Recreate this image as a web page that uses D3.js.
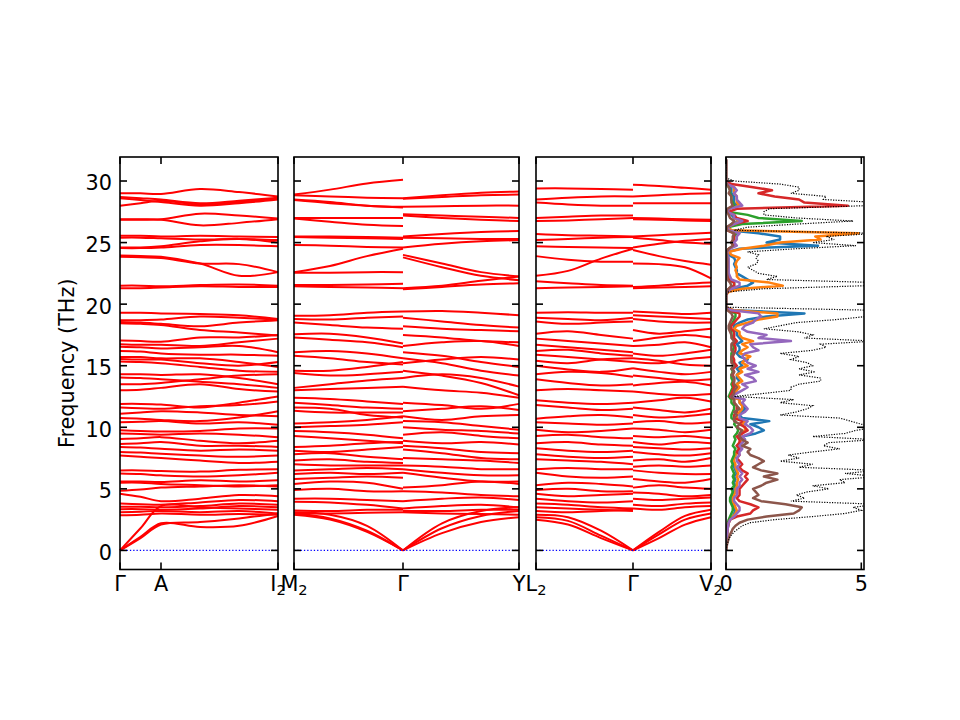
<!DOCTYPE html>
<html>
<head>
<meta charset="utf-8">
<script src="https://cdn.jsdelivr.net/npm/d3@7"></script>
<style>
  body { margin: 0; background: #fff; }
  text { font-family: "DejaVu Sans", sans-serif; }
</style>
</head>
<body>
<svg id="chart" width="960" height="720"></svg>
<script>
// Phonon dispersion (3 path panels) + projected DOS panel

const freqTicks = [0, 5, 10, 15, 20, 25, 30];
const dosTicks = [0, 5];

// --- panel 1: Γ - A - I2 ---
const p1Labels = ["Γ", "A", "I_2"];
const p1LabelPos = [0, 0.41, 1.58];
const p1Q = [0, 0.205, 0.41, 0.8, 1.19, 1.58];
const p1Bands = [
  [0, 1.8, 3.6, 3.5, 3.4, 3.3],
  [0, 1.1, 2.2, 1.9, 2.0, 2.8],
  [0, 1.0, 2.1, 2.3, 2.6, 3.0],
  [2.85, 2.9, 3.0, 2.9, 2.95, 2.9],
  [3.1, 3.15, 3.2, 3.1, 3.2, 3.0],
  [3.35, 3.35, 3.3, 3.4, 3.6, 3.5],
  [3.55, 3.55, 3.5, 3.6, 3.8, 3.7],
  [3.8, 3.75, 3.7, 3.9, 4.1, 4.0],
  [4.6, 4.35, 4.0, 4.2, 4.5, 4.4],
  [4.85, 4.95, 5.1, 5.2, 5.3, 5.2],
  [5.5, 5.5, 5.4, 5.3, 5.2, 5.3],
  [5.6, 5.6, 5.55, 5.7, 5.6, 5.7],
  [6.25, 6.2, 6.1, 6.0, 6.1, 6.3],
  [6.5, 6.5, 6.45, 6.4, 6.55, 6.6],
  [7.7, 7.6, 7.5, 7.3, 7.1, 7.2],
  [8.0, 7.95, 7.85, 7.7, 7.6, 7.7],
  [8.4, 8.35, 8.25, 8.1, 8.2, 8.1],
  [8.65, 8.7, 8.8, 8.5, 8.5, 8.4],
  [9.05, 9.1, 9.2, 8.9, 8.7, 8.9],
  [9.5, 9.45, 9.4, 9.5, 9.4, 9.2],
  [9.75, 9.7, 9.65, 9.7, 9.9, 9.9],
  [10.4, 10.45, 10.5, 10.3, 10.4, 10.2],
  [10.75, 10.7, 10.6, 10.5, 10.8, 11.3],
  [11.1, 11.2, 11.3, 11.2, 11.0, 10.9],
  [11.6, 11.55, 11.5, 11.7, 11.8, 12.1],
  [11.9, 11.9, 11.85, 11.6, 12.0, 12.5],
  [13.0, 13.05, 13.2, 13.5, 13.1, 12.9],
  [13.5, 13.5, 13.6, 13.9, 14.2, 14.3],
  [14.05, 14.0, 13.9, 13.7, 13.5, 13.2],
  [14.3, 14.3, 14.25, 14.3, 14.0, 13.5],
  [15.35, 15.3, 15.2, 14.9, 14.6, 14.5],
  [15.55, 15.5, 15.5, 15.2, 15.0, 15.3],
  [15.7, 15.7, 15.6, 15.6, 15.3, 14.9],
  [16.2, 16.15, 16.0, 15.9, 15.9, 15.8],
  [16.55, 16.5, 16.4, 16.5, 16.6, 16.1],
  [16.75, 16.7, 16.7, 16.6, 16.9, 17.2],
  [17.05, 17.0, 16.95, 17.3, 17.3, 17.5],
  [18.45, 18.4, 18.3, 17.9, 17.7, 17.45],
  [18.55, 18.5, 18.4, 18.2, 18.5, 18.7],
  [18.7, 18.7, 18.75, 19.0, 18.9, 18.75],
  [19.3, 19.3, 19.25, 19.2, 19.1, 18.8],
  [21.3, 21.3, 21.35, 21.45, 21.4, 21.4],
  [21.5, 21.5, 21.45, 21.55, 21.6, 21.5],
  [23.85, 23.8, 23.75, 23.3, 23.25, 22.6],
  [23.95, 23.9, 23.85, 23.3, 22.3, 22.6],
  [24.55, 24.55, 24.6, 24.8, 24.8, 24.7],
  [24.6, 24.6, 24.7, 25.1, 25.3, 25.0],
  [25.4, 25.4, 25.35, 25.25, 25.3, 25.2],
  [25.55, 25.55, 25.5, 25.55, 25.5, 25.45],
  [26.85, 26.85, 26.85, 26.4, 26.6, 26.9],
  [26.9, 26.9, 26.9, 27.35, 27.2, 26.95],
  [28.0, 28.2, 28.4, 28.1, 28.3, 28.55],
  [28.6, 28.45, 28.3, 28.0, 28.2, 28.5],
  [28.7, 28.6, 28.5, 28.2, 28.4, 28.65],
  [29.0, 29.0, 28.95, 29.35, 29.1, 28.75]
];

// --- panel 2: M2 - Γ - Y ---
const p2Labels = ["M_2", "Γ", "Y"];
const p2LabelPos = [0, 1.09, 2.25];
const p2QLeft = [0, 0.36, 0.73, 1.09];
const p2QRight = [1.09, 1.48, 1.87, 2.25];
const p2BandsLeft = [
  [3.1, 2.9, 2.0, 0],
  [3.0, 2.6, 1.6, 0],
  [2.9, 2.5, 1.5, 0],
  [3.0, 3.0, 3.05, 3.1],
  [3.25, 3.2, 3.3, 3.3],
  [3.95, 3.9, 3.7, 3.4],
  [4.2, 4.2, 4.1, 4.0],
  [4.9, 5.0, 4.8, 4.8],
  [5.4, 5.6, 5.5, 5.0],
  [5.8, 5.9, 6.0, 5.9],
  [6.2, 6.3, 6.2, 6.3],
  [6.5, 6.6, 6.7, 6.6],
  [7.0, 6.9, 6.9, 6.9],
  [7.3, 7.4, 7.2, 7.1],
  [7.8, 7.9, 7.6, 7.4],
  [8.1, 8.0, 8.2, 8.4],
  [8.4, 8.5, 8.7, 8.8],
  [9.3, 9.1, 8.9, 8.7],
  [9.7, 9.6, 9.4, 9.1],
  [10.0, 10.1, 10.2, 10.4],
  [10.3, 10.4, 10.6, 10.9],
  [11.35, 11.2, 11.2, 11.2],
  [11.6, 11.5, 11.0, 10.8],
  [12.0, 11.8, 11.6, 11.5],
  [12.4, 12.3, 12.1, 11.9],
  [13.0, 13.1, 13.2, 13.3],
  [13.2, 13.5, 13.8, 14.0],
  [14.4, 14.2, 14.3, 14.5],
  [14.6, 14.6, 14.9, 15.3],
  [15.8, 15.6, 15.3, 15.1],
  [16.1, 16.2, 16.0, 15.6],
  [17.3, 17.1, 16.9, 16.5],
  [17.55, 17.6, 17.3, 16.8],
  [18.5, 18.3, 18.1, 18.0],
  [18.8, 18.75, 18.9, 19.0],
  [19.05, 19.1, 19.3, 19.4],
  [21.45, 21.4, 21.35, 21.3],
  [21.55, 21.55, 21.6, 21.65],
  [22.55, 22.55, 22.6, 22.6],
  [22.6, 23.1, 23.9, 24.5],
  [24.8, 24.75, 24.65, 24.6],
  [25.45, 25.4, 25.35, 25.3],
  [25.5, 25.5, 25.45, 25.4],
  [26.95, 26.7, 26.45, 26.35],
  [27.0, 27.0, 27.0, 27.0],
  [28.45, 28.2, 28.0, 27.85],
  [28.5, 28.3, 28.0, 27.9],
  [28.85, 28.75, 28.65, 28.6],
  [28.9, 29.3, 29.8, 30.1]
];
const p2BandsRight = [
  [0, 2.2, 3.2, 3.5],
  [0, 1.8, 2.8, 3.2],
  [0, 1.4, 2.3, 2.7],
  [3.1, 3.0, 2.95, 2.9],
  [3.2, 3.2, 3.3, 3.3],
  [3.4, 3.6, 3.7, 3.5],
  [4.0, 4.2, 4.3, 4.1],
  [4.8, 4.7, 4.5, 4.4],
  [5.1, 5.3, 5.6, 5.4],
  [6.3, 5.9, 5.6, 5.6],
  [6.6, 6.3, 6.1, 6.1],
  [6.9, 6.8, 6.6, 6.6],
  [7.5, 7.4, 7.3, 7.1],
  [8.2, 7.9, 7.5, 7.4],
  [8.5, 8.3, 8.0, 7.9],
  [8.9, 8.7, 8.8, 8.6],
  [9.4, 9.6, 9.3, 9.1],
  [10.0, 9.8, 9.7, 9.5],
  [10.5, 10.4, 10.1, 9.8],
  [10.9, 10.6, 10.9, 11.0],
  [11.3, 11.5, 11.7, 11.4],
  [12.0, 11.8, 11.5, 11.9],
  [13.3, 13.0, 12.8, 12.4],
  [14.0, 14.3, 14.0, 13.3],
  [14.6, 14.2, 13.6, 12.6],
  [15.2, 15.5, 15.7, 15.5],
  [15.6, 15.2, 14.6, 14.2],
  [16.1, 15.8, 15.3, 14.9],
  [16.6, 16.9, 17.0, 16.6],
  [17.5, 17.3, 17.0, 16.9],
  [18.2, 18.0, 17.9, 17.8],
  [18.9, 18.6, 18.3, 18.1],
  [19.4, 19.45, 19.3, 19.1],
  [21.2, 21.4, 21.6, 21.7],
  [21.3, 21.5, 21.9, 22.25],
  [23.8, 23.0, 22.3, 21.95],
  [24.0, 23.3, 22.6, 22.25],
  [24.6, 24.9, 25.1, 25.2],
  [25.4, 25.35, 25.3, 25.3],
  [25.5, 25.7, 25.85, 25.95],
  [27.2, 27.0, 26.85, 26.75],
  [27.3, 27.2, 27.1, 27.0],
  [27.9, 27.95, 28.0, 28.0],
  [28.55, 28.7, 28.85, 28.9],
  [28.6, 28.85, 29.05, 29.15]
];

// --- panel 3: L2 - Γ - V2 ---
const p3Labels = ["L_2", "Γ", "V_2"];
const p3LabelPos = [0, 0.97, 1.75];
const p3QLeft = [0, 0.32, 0.65, 0.97];
const p3QRight = [0.97, 1.23, 1.49, 1.75];
const p3BandsLeft = [
  [2.9, 2.7, 1.6, 0],
  [2.7, 2.4, 1.2, 0],
  [2.5, 2.1, 1.0, 0],
  [3.2, 3.1, 3.2, 3.3],
  [3.5, 3.4, 3.3, 3.2],
  [3.8, 3.7, 3.5, 3.4],
  [4.2, 4.0, 3.9, 4.0],
  [4.6, 4.4, 4.5, 4.6],
  [4.9, 5.0, 4.8, 4.8],
  [5.3, 5.5, 5.4, 5.2],
  [6.3, 6.0, 5.9, 6.0],
  [6.6, 6.7, 6.6, 6.6],
  [7.4, 7.3, 7.2, 7.0],
  [7.8, 7.6, 7.5, 7.6],
  [8.3, 8.1, 8.0, 8.1],
  [8.7, 8.8, 8.6, 8.5],
  [9.3, 9.4, 9.2, 9.1],
  [9.8, 9.6, 9.7, 9.9],
  [10.4, 10.3, 10.2, 10.3],
  [10.7, 10.9, 11.0, 10.8],
  [11.8, 11.6, 11.4, 11.5],
  [12.2, 12.0, 11.9, 12.0],
  [13.0, 13.1, 13.0, 12.9],
  [13.9, 13.6, 13.4, 13.5],
  [14.3, 14.5, 14.4, 14.1],
  [15.0, 14.7, 14.5, 14.8],
  [15.4, 15.2, 15.5, 15.6],
  [15.9, 15.7, 15.5, 15.3],
  [16.2, 16.3, 16.0, 15.8],
  [16.7, 16.5, 16.3, 16.1],
  [17.2, 17.0, 16.8, 16.6],
  [17.6, 17.8, 17.5, 17.2],
  [18.6, 18.4, 18.5, 18.6],
  [18.9, 18.8, 18.7, 18.9],
  [19.3, 19.35, 19.3, 19.3],
  [21.3, 21.35, 21.4, 21.45],
  [21.85, 21.7, 21.55, 21.5],
  [22.3, 22.7, 23.7, 24.5],
  [23.9, 23.6, 23.45, 23.45],
  [24.7, 24.65, 24.6, 24.55],
  [25.2, 25.3, 25.4, 25.45],
  [25.7, 25.6, 25.55, 25.5],
  [26.75, 26.8, 26.9, 27.0],
  [27.0, 27.1, 27.2, 27.2],
  [28.25, 28.1, 28.0, 28.0],
  [28.5, 28.65, 28.75, 28.75],
  [29.4, 29.4, 29.35, 29.3]
];
const p3BandsRight = [
  [0, 1.5, 2.8, 3.3],
  [0, 1.3, 2.5, 3.0],
  [0, 1.0, 2.1, 2.7],
  [3.4, 3.3, 3.5, 3.6],
  [3.7, 3.6, 3.8, 3.9],
  [4.2, 4.1, 4.2, 4.3],
  [4.7, 4.6, 4.4, 4.5],
  [5.1, 5.3, 5.1, 5.0],
  [5.8, 5.6, 5.5, 5.8],
  [6.5, 6.3, 6.2, 6.2],
  [6.8, 6.9, 6.8, 6.9],
  [7.3, 7.4, 7.2, 7.5],
  [8.0, 7.8, 7.7, 7.9],
  [8.4, 8.3, 8.2, 8.3],
  [8.8, 8.6, 8.8, 8.7],
  [9.3, 9.2, 9.3, 9.1],
  [9.9, 9.8, 9.6, 9.8],
  [10.4, 10.5, 10.3, 10.4],
  [11.0, 10.8, 10.9, 11.1],
  [11.6, 11.4, 11.2, 11.5],
  [12.0, 12.2, 12.4, 12.1],
  [12.9, 12.7, 12.6, 12.7],
  [13.4, 13.6, 13.7, 13.4],
  [14.2, 14.0, 13.8, 13.9],
  [14.8, 14.5, 14.3, 14.5],
  [15.3, 15.2, 15.5, 15.7],
  [15.6, 15.4, 15.1, 15.0],
  [16.0, 15.8, 16.0, 16.3],
  [16.6, 16.7, 16.9, 16.5],
  [17.0, 17.3, 17.5, 17.3],
  [17.9, 17.6, 17.8, 18.0],
  [18.8, 18.6, 18.5, 18.5],
  [19.1, 19.0, 18.9, 18.8],
  [19.4, 19.3, 19.2, 19.3],
  [21.3, 21.35, 21.4, 21.45],
  [21.4, 21.5, 21.65, 21.75],
  [23.3, 23.25, 23.0, 22.1],
  [24.4, 23.9, 23.5, 23.2],
  [24.6, 24.9, 25.15, 25.3],
  [25.4, 25.2, 25.0, 24.9],
  [25.5, 25.6, 25.7, 25.8],
  [26.9, 26.85, 26.8, 26.75],
  [27.0, 26.95, 26.9, 26.85],
  [28.2, 28.2, 28.2, 28.2],
  [28.75, 28.85, 28.95, 29.0],
  [29.7, 29.6, 29.45, 29.3]
];

// --- DOS panel (frequency grid in THz, 8 values per row = 2 THz) ---
const dosFreq = [
  0, 0.25, 0.5, 0.75, 1, 1.25, 1.5, 1.75,
  2, 2.25, 2.5, 2.75, 3, 3.25, 3.5, 3.75,
  4, 4.25, 4.5, 4.75, 5, 5.25, 5.5, 5.75,
  6, 6.25, 6.5, 6.75, 7, 7.25, 7.5, 7.75,
  8, 8.25, 8.5, 8.75, 9, 9.25, 9.5, 9.75,
  10, 10.25, 10.5, 10.75, 11, 11.25, 11.5, 11.75,
  12, 12.25, 12.5, 12.75, 13, 13.25, 13.5, 13.75,
  14, 14.25, 14.5, 14.75, 15, 15.25, 15.5, 15.75,
  16, 16.25, 16.5, 16.75, 17, 17.25, 17.5, 17.75,
  18, 18.25, 18.5, 18.75, 19, 19.25, 19.5, 19.75,
  20, 20.25, 20.5, 20.75, 21, 21.25, 21.5, 21.75,
  22, 22.25, 22.5, 22.75, 23, 23.25, 23.5, 23.75,
  24, 24.25, 24.5, 24.75, 25, 25.25, 25.5, 25.75,
  26, 26.25, 26.5, 26.75, 27, 27.25, 27.5, 27.75,
  28, 28.25, 28.5, 28.75, 29, 29.25, 29.5, 29.75,
  30, 30.25, 30.5, 30.75, 31, 31.25, 31.5, 31.75
];
const dosTotal = [
  0, 0.02, 0.05, 0.08, 0.12, 0.2, 0.3, 0.45,
  0.6, 0.9, 1.8, 3.2, 4.4, 5.0, 4.7, 5.6,
  2.4, 2.9, 2.6, 3.0, 3.8, 3.2, 4.4, 4.2,
  5.6, 4.4, 5.6, 2.7, 3.2, 2.0, 2.7, 2.3,
  3.2, 4.2, 3.6, 3.8, 5.5, 3.2, 4.4, 4.8,
  5.5, 5.0, 4.6, 4.2, 2.0, 2.6, 3.0, 3.2,
  2.0, 2.5, 0.3, 1.4, 2.4, 2.4, 2.7, 3.5,
  3.5, 2.7, 3.3, 2.7, 3.2, 3.0, 2.4, 2.7,
  2.0, 3.2, 3.7, 3.5, 5.5, 2.9, 3.2, 2.7,
  1.4, 2.0, 2.6, 4.1, 5.2, 5.2, 5.5, 0,
  0, 0, 0, 0, 0.1, 1.4, 5.2, 5.6,
  1.5, 1.9, 1.2, 1.0, 0.8, 1.1, 1.2, 1.1,
  1.2, 0.8, 2.6, 4.8, 3.2, 4.0, 3.7, 5.6,
  0.3, 0.8, 2.6, 4.7, 2.6, 1.4, 1.4, 1.6,
  5.2, 5.6, 3.6, 3.7, 2.4, 2.7, 2.7, 2.0,
  0.3, 0, 0, 0, 0, 0, 0, 0
];
const dosBlue = [
  0, 0, 0.01, 0.02, 0.03, 0.04, 0.05, 0.06,
  0.08, 0.1, 0.15, 0.25, 0.3, 0.35, 0.3, 0.25,
  0.2, 0.2, 0.25, 0.3, 0.3, 0.35, 0.3, 0.35,
  0.3, 0.4, 0.35, 0.3, 0.3, 0.25, 0.3, 0.35,
  0.4, 0.5, 0.4, 0.6, 0.7, 0.6, 1.1, 1.4,
  1.2, 0.9, 1.6, 0.6, 0.5, 0.6, 0.7, 0.6,
  0.5, 0.5, 0.2, 0.3, 0.4, 0.4, 0.4, 0.5,
  0.4, 0.4, 0.5, 0.4, 0.6, 0.5, 0.8, 0.5,
  0.4, 0.5, 0.5, 0.4, 0.6, 0.5, 0.4, 0.4,
  0.3, 0.3, 0.5, 0.8, 1.5, 2.9, 0.3, 0,
  0, 0, 0, 0, 0.05, 0.3, 0.8, 1.0,
  0.8, 0.6, 0.4, 0.4, 0.35, 0.3, 0.35, 0.3,
  0.1, 0.1, 0.5, 3.4, 1.5, 2.0, 2.0, 1.2,
  0.1, 0.05, 0.2, 0.5, 0.3, 0.2, 0.05, 0.1,
  0.4, 0.3, 0.3, 0.3, 0.2, 0.2, 0.2, 0.05,
  0, 0, 0, 0, 0, 0, 0, 0
];
const dosOrange = [
  0, 0, 0.01, 0.02, 0.03, 0.04, 0.05, 0.06,
  0.08, 0.1, 0.15, 0.25, 0.35, 0.4, 0.35, 0.3,
  0.25, 0.25, 0.3, 0.35, 0.35, 0.4, 0.4, 0.45,
  0.4, 0.45, 0.4, 0.35, 0.35, 0.3, 0.3, 0.35,
  0.4, 0.5, 0.4, 0.5, 0.6, 0.5, 0.6, 0.7,
  0.7, 0.6, 0.7, 0.4, 0.4, 0.5, 0.6, 0.6,
  0.5, 0.5, 0.2, 0.3, 0.4, 0.5, 0.4, 0.6,
  0.5, 0.4, 0.6, 0.5, 0.8, 0.6, 0.7, 0.9,
  0.5, 0.6, 0.8, 0.6, 1.0, 0.6, 0.5, 0.5,
  0.3, 0.4, 0.8, 1.2, 1.9, 1.9, 0.3, 0,
  0, 0, 0, 0, 0.1, 0.6, 2.1, 1.6,
  0.5, 0.4, 0.4, 0.35, 0.4, 0.35, 0.4, 0.5,
  0.2, 0.1, 0.6, 1.4, 2.0, 3.5, 3.3, 4.9,
  0.2, 0.1, 0.3, 0.5, 0.3, 0.3, 0.05, 0.1,
  0.5, 0.4, 0.4, 0.4, 0.3, 0.3, 0.3, 0.05,
  0, 0, 0, 0, 0, 0, 0, 0
];
const dosGreen = [
  0, 0, 0, 0.01, 0.02, 0.03, 0.03, 0.04,
  0.05, 0.07, 0.1, 0.15, 0.2, 0.25, 0.25, 0.2,
  0.15, 0.15, 0.2, 0.25, 0.2, 0.3, 0.25, 0.3,
  0.25, 0.3, 0.25, 0.2, 0.25, 0.2, 0.25, 0.3,
  0.3, 0.35, 0.25, 0.3, 0.35, 0.3, 0.4, 0.45,
  0.4, 0.3, 0.35, 0.2, 0.2, 0.25, 0.3, 0.3,
  0.2, 0.2, 0.1, 0.15, 0.2, 0.25, 0.2, 0.25,
  0.2, 0.2, 0.25, 0.2, 0.3, 0.25, 0.2, 0.2,
  0.2, 0.25, 0.3, 0.25, 0.35, 0.25, 0.2, 0.2,
  0.15, 0.15, 0.25, 0.3, 0.35, 0.35, 0.1, 0,
  0, 0, 0, 0, 0.02, 0.1, 0.3, 0.3,
  0.1, 0.08, 0.06, 0.06, 0.06, 0.06, 0.06, 0.05,
  0.03, 0.02, 0.1, 0.3, 0.2, 0.3, 0.3, 0.4,
  0.05, 0.05, 0.6, 2.8, 1.2, 0.8, 0.05, 0.1,
  0.3, 0.25, 0.2, 0.2, 0.15, 0.15, 0.1, 0.02,
  0, 0, 0, 0, 0, 0, 0, 0
];
const dosRed = [
  0, 0, 0, 0.01, 0.02, 0.03, 0.04, 0.05,
  0.07, 0.1, 0.15, 0.4, 0.9, 1.0, 1.2, 0.9,
  0.5, 0.4, 0.5, 0.5, 0.5, 0.6, 0.7, 0.8,
  0.7, 0.8, 0.6, 0.5, 0.6, 0.5, 0.4, 0.5,
  0.4, 0.5, 0.4, 0.5, 0.5, 0.4, 0.6, 0.8,
  0.7, 0.5, 0.6, 0.3, 0.3, 0.4, 0.4, 0.4,
  0.3, 0.3, 0.15, 0.2, 0.25, 0.3, 0.25, 0.3,
  0.3, 0.25, 0.3, 0.25, 0.4, 0.3, 0.3, 0.25,
  0.3, 0.35, 0.35, 0.3, 0.4, 0.3, 0.3, 0.3,
  0.2, 0.2, 0.3, 0.4, 0.5, 0.5, 0.1, 0,
  0, 0, 0, 0, 0.03, 0.1, 0.3, 0.3,
  0.1, 0.08, 0.06, 0.06, 0.06, 0.06, 0.06, 0.05,
  0.03, 0.03, 0.1, 0.3, 0.2, 0.3, 0.3, 0.3,
  0.05, 0.05, 0.3, 0.8, 0.4, 0.3, 0.1, 0.4,
  4.5, 2.9, 2.7, 1.8, 1.2, 1.7, 1.0, 0.2,
  0, 0, 0, 0, 0, 0, 0, 0
];
const dosPurple = [
  0, 0, 0.01, 0.02, 0.03, 0.04, 0.05, 0.06,
  0.08, 0.1, 0.15, 0.3, 0.4, 0.5, 0.5, 0.4,
  0.3, 0.3, 0.4, 0.4, 0.4, 0.5, 0.5, 0.6,
  0.5, 0.6, 0.5, 0.4, 0.5, 0.4, 0.4, 0.5,
  0.5, 0.6, 0.5, 0.6, 0.7, 0.6, 0.9, 1.0,
  0.9, 0.7, 0.8, 0.5, 0.5, 0.7, 0.8, 0.7,
  0.6, 0.7, 0.2, 0.4, 0.6, 0.8, 0.6, 1.1,
  1.0, 0.7, 1.2, 0.8, 1.1, 0.8, 0.7, 0.6,
  0.7, 1.2, 1.0, 0.9, 2.4, 1.2, 1.5, 0.8,
  0.6, 0.7, 1.0, 1.1, 1.3, 1.2, 0.2, 0,
  0, 0, 0, 0, 0.05, 0.2, 0.5, 0.5,
  0.2, 0.15, 0.1, 0.1, 0.1, 0.1, 0.1, 0.1,
  0.05, 0.05, 0.15, 0.4, 0.3, 0.4, 0.4, 0.5,
  0.1, 0.05, 0.3, 0.6, 0.3, 0.3, 0.05, 0.1,
  0.6, 0.5, 0.4, 0.4, 0.3, 0.4, 0.3, 0.05,
  0, 0, 0, 0, 0, 0, 0, 0
];
const dosBrown = [
  0, 0.02, 0.04, 0.07, 0.1, 0.14, 0.2, 0.25,
  0.35, 0.5, 0.8, 1.5, 2.5, 2.7, 2.8, 2.2,
  1.3, 1.0, 1.2, 1.1, 1.0, 1.3, 1.5, 1.9,
  1.4, 1.9, 1.3, 1.0, 1.2, 1.4, 1.2, 0.9,
  0.8, 0.9, 0.6, 0.8, 0.6, 0.5, 0.5, 0.6,
  0.4, 0.5, 0.3, 0.3, 0.4, 0.3, 0.5, 0.4,
  0.3, 0.3, 0.2, 0.3, 0.3, 0.4, 0.3, 0.3,
  0.3, 0.2, 0.3, 0.2, 0.3, 0.2, 0.2, 0.2,
  0.3, 0.2, 0.2, 0.2, 0.3, 0.2, 0.2, 0.15,
  0.1, 0.1, 0.15, 0.2, 0.25, 0.2, 0.05, 0,
  0, 0, 0, 0, 0.02, 0.1, 0.2, 0.15,
  0.05, 0.05, 0.04, 0.04, 0.05, 0.05, 0.05, 0.04,
  0.03, 0.02, 0.1, 0.25, 0.2, 0.25, 0.25, 0.3,
  0.05, 0.02, 0.2, 0.3, 0.15, 0.1, 0.03, 0.05,
  0.25, 0.2, 0.2, 0.2, 0.1, 0.15, 0.1, 0.03,
  0, 0, 0, 0, 0, 0, 0, 0
];
const pdosSeries = [dosBlue, dosOrange, dosGreen, dosRed, dosPurple, dosBrown];
const pdosColors = ["#1f77b4", "#ff7f0e", "#2ca02c", "#d62728", "#9467bd", "#8c564b"];

// ---------------- layout ----------------
const svg = d3.select("#chart");
const plotTop = 157, plotBottom = 569.5;
const y = d3.scaleLinear().domain([-1.55, 31.95]).range([plotBottom, plotTop]);
const tickLen = 7;
const fontSize = 20.8;
const axisW = 1.6;

const bandPanels = [
  { x0: 120, x1: 278, domain: [0, 1.58], labels: p1Labels, labelPos: p1LabelPos,
    segments: [{ q: p1Q, bands: p1Bands }] },
  { x0: 294, x1: 519, domain: [0, 2.25], labels: p2Labels, labelPos: p2LabelPos,
    segments: [{ q: p2QLeft, bands: p2BandsLeft }, { q: p2QRight, bands: p2BandsRight }] },
  { x0: 536, x1: 711, domain: [0, 1.75], labels: p3Labels, labelPos: p3LabelPos,
    segments: [{ q: p3QLeft, bands: p3BandsLeft }, { q: p3QRight, bands: p3BandsRight }] }
];

function drawFrame(x0, x1, xTickPos) {
  const g = svg.append("g").attr("stroke", "#000").attr("stroke-width", axisW);
  // ticks point inward, on all four sides
  freqTicks.forEach(t => {
    g.append("line").attr("x1", x0).attr("x2", x0 + tickLen).attr("y1", y(t)).attr("y2", y(t));
    g.append("line").attr("x1", x1).attr("x2", x1 - tickLen).attr("y1", y(t)).attr("y2", y(t));
  });
  xTickPos.forEach(px => {
    g.append("line").attr("x1", px).attr("x2", px).attr("y1", plotTop).attr("y2", plotTop + tickLen);
    g.append("line").attr("x1", px).attr("x2", px).attr("y1", plotBottom).attr("y2", plotBottom - tickLen);
  });
  g.append("rect").attr("x", x0).attr("y", plotTop)
    .attr("width", x1 - x0).attr("height", plotBottom - plotTop).attr("fill", "none");
}

function drawLabel(px, label) {
  const parts = label.split("_");
  const t = svg.append("text").attr("x", px).attr("y", 591)
    .attr("text-anchor", "middle").attr("font-size", fontSize).attr("fill", "#000");
  t.append("tspan").text(parts[0]);
  if (parts[1]) {
    t.append("tspan").attr("font-size", fontSize * 0.7).attr("dy", 3.5).text(parts[1]);
  }
}

bandPanels.forEach(p => {
  const x = d3.scaleLinear().domain(p.domain).range([p.x0, p.x1]);
  const g = svg.append("g");

  p.segments.forEach(seg => {
    const line = d3.line()
      .x((d, i) => x(seg.q[i]))
      .y(d => y(d))
      .curve(d3.curveCatmullRom.alpha(0.5));
    g.selectAll(null).data(seg.bands).enter().append("path")
      .attr("d", line)
      .attr("fill", "none")
      .attr("stroke", "#ff0000")
      .attr("stroke-width", 2);
  });

  // zero-frequency guide
  g.append("line")
    .attr("x1", p.x0).attr("x2", p.x1).attr("y1", y(0)).attr("y2", y(0))
    .attr("stroke", "#0000ff").attr("stroke-width", 1.2).attr("stroke-dasharray", "1.3,2");

  drawFrame(p.x0, p.x1, p.labelPos.map(v => x(v)));
  p.labels.forEach((lab, i) => drawLabel(x(p.labelPos[i]), lab));
});

// ---------------- DOS ----------------
const dx0 = 726, dx1 = 864;
const xd = d3.scaleLinear().domain([0, 5.1]).range([dx0, dx1]);
svg.append("clipPath").attr("id", "dosclip").append("rect")
  .attr("x", dx0).attr("y", plotTop).attr("width", dx1 - dx0).attr("height", plotBottom - plotTop);
const gd = svg.append("g").attr("clip-path", "url(#dosclip)");

const dosLine = d3.line()
  .x(d => xd(d[1]))
  .y(d => y(d[0]));

pdosSeries.forEach((s, k) => {
  gd.append("path")
    .datum(dosFreq.map((f, i) => [f, s[i]]))
    .attr("d", dosLine)
    .attr("fill", "none")
    .attr("stroke", pdosColors[k])
    .attr("stroke-width", 2.5)
    .attr("stroke-linejoin", "round");
});
gd.append("path")
  .datum(dosFreq.map((f, i) => [f, dosTotal[i]]))
  .attr("d", dosLine)
  .attr("fill", "none")
  .attr("stroke", "#000")
  .attr("stroke-width", 1.2)
  .attr("stroke-dasharray", "1.2,1.4");

drawFrame(dx0, dx1, dosTicks.map(v => xd(v)));
dosTicks.forEach(v => drawLabel(xd(v), String(v)));

// y tick labels (first panel only)
freqTicks.forEach(t => {
  svg.append("text").attr("x", 112).attr("y", y(t)).attr("dy", "0.45em")
    .attr("text-anchor", "end").attr("font-size", fontSize).text(t);
});

svg.append("text")
  .attr("transform", `translate(73.5,${(plotTop + plotBottom) / 2}) rotate(-90)`)
  .attr("text-anchor", "middle").attr("font-size", fontSize)
  .text("Frequency (THz)");
</script>
</body>
</html>
